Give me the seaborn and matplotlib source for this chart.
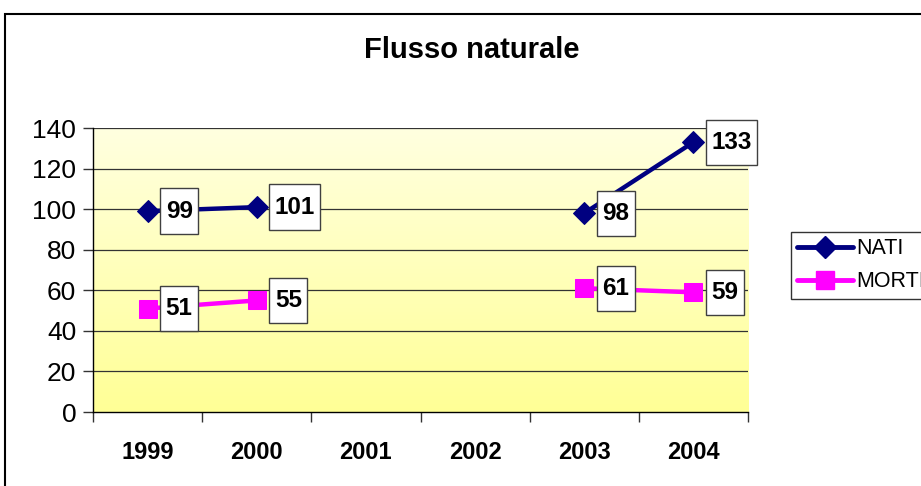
import numpy as np
import pandas as pd
import matplotlib
matplotlib.use("Agg")
import matplotlib.pyplot as plt
import seaborn as sns
from matplotlib.path import Path
from matplotlib.lines import Line2D
from matplotlib.patches import Rectangle

# ---- data ----
years = ["1999", "2000", "2001", "2002", "2003", "2004"]
nati = [99, 101, np.nan, np.nan, 98, 133]
morti = [51, 55, np.nan, np.nan, 61, 59]
series_names = ["NATI", "MORTI"]
title = "Flusso naturale"
yticks = [0, 20, 40, 60, 80, 100, 120, 140]

sns.set_style("white")
plt.rcParams["font.family"] = ["Liberation Sans", "DejaVu Sans"]
for k in ["text.color", "axes.labelcolor", "xtick.color", "ytick.color"]:
    plt.rcParams[k] = "black"

W, H = 921, 486
fig = plt.figure(figsize=(W / 100, H / 100), dpi=100)
L, R, T, B = 93, 748, 128, 412
ax = fig.add_axes([L / W, 1 - B / H, (R - L) / W, (B - T) / H])

# gradient background
grad = np.linspace(0, 1, 256).reshape(-1, 1)
top = np.array([255, 255, 224]) / 255
bot = np.array([255, 255, 150]) / 255
img = top[None, None, :] * (1 - grad[:, :, None]) + bot[None, None, :] * grad[:, :, None]
ax.imshow(img, extent=[-0.5, 5.5, 0, 140], aspect="auto", zorder=0, origin="upper")

def segments(vals):
    seg, s, prev = [], 0, False
    for v in vals:
        isn = np.isnan(v)
        if isn and prev is False:
            s += 1
        prev = isn if isn else False
        seg.append(s)
    return seg

pos = list(range(len(years)))
styles = {
    "NATI": dict(color="#000080", marker="D", ms=11),
    "MORTI": dict(color="#FF00FF", marker="s", ms=13),
}
for name, vals in zip(series_names, [nati, morti]):
    df = pd.DataFrame({"pos": pos, "val": vals, "seg": segments(vals)}).dropna()
    st = styles[name]
    sns.lineplot(data=df, x="pos", y="val", units="seg", estimator=None, ax=ax,
                 color=st["color"], marker=st["marker"], markersize=st["ms"],
                 markeredgecolor=st["color"], linewidth=3.2, zorder=4, legend=False)

def mybox(x0, y0, width, height, mutation_size):
    px = 0.22 * mutation_size
    py = 0.46 * mutation_size
    x0 -= px; y0 -= py; width += 2 * px; height += 2 * py
    return Path([(x0, y0), (x0 + width, y0), (x0 + width, y0 + height),
                 (x0, y0 + height), (x0, y0)], closed=True)

for vals in [nati, morti]:
    for p, v in zip(pos, vals):
        if np.isnan(v):
            continue
        ax.annotate(f"{int(v)}", xy=(p, v), xytext=(13.0, 0), textcoords="offset points",
                    ha="left", va="center", fontsize=17.5, fontweight="bold", color="black",
                    bbox=dict(boxstyle=mybox, fc="white", ec="#404040", lw=1.0),
                    zorder=6, annotation_clip=False)

ax.set_xlim(-0.5, 5.5)
ax.set_ylim(0, 140)
ax.set_yticks(yticks)
ax.set_yticklabels([str(t) for t in yticks])
ax.grid(False)
for y in yticks[1:]:
    ax.axhline(y, color="#333333", lw=0.9, zorder=1)

ax.set_xticks(np.arange(-0.5, 6, 1))
ax.set_xticklabels([])
ax.set_xticks(pos, minor=True)
ax.set_xticklabels(years, minor=True, fontweight="bold", fontsize=17)
ax.tick_params(axis="x", which="major", direction="out", length=7, width=1, color="#333333", bottom=True)
ax.tick_params(axis="x", which="minor", length=0, pad=21, bottom=True)
ax.tick_params(axis="y", direction="out", length=7, width=1, color="#333333", labelsize=19, pad=5, left=True)
ax.set_xlabel("")
ax.set_ylabel("")

for s in ["top", "right"]:
    ax.spines[s].set_visible(False)
for s in ["left", "bottom"]:
    ax.spines[s].set_visible(True)
    ax.spines[s].set_color("black")
    ax.spines[s].set_linewidth(1.0)

fig.text(472 / W, 1 - 50 / H, title, ha="center", va="center", fontsize=21, fontweight="bold")

handles = [Line2D([0], [0], color=styles[n]["color"], marker=styles[n]["marker"],
                  ms=styles[n]["ms"], lw=3.5) for n in series_names]
leg = fig.legend(handles, series_names, loc="upper left", bbox_to_anchor=(791 / W, 1 - 232 / H),
                 frameon=True, fancybox=False, edgecolor="black", fontsize=15.5,
                 handlelength=2.6, handletextpad=0.12, borderpad=0.3, labelspacing=0.55,
                 borderaxespad=0)
leg.get_frame().set_linewidth(1.0)

fig.patches.append(Rectangle((5 / W, -0.1), 1.2, 1.1 - 14 / H, transform=fig.transFigure,
                             fill=False, ec="black", lw=1.5))

fig.savefig("out.png", dpi=100)
